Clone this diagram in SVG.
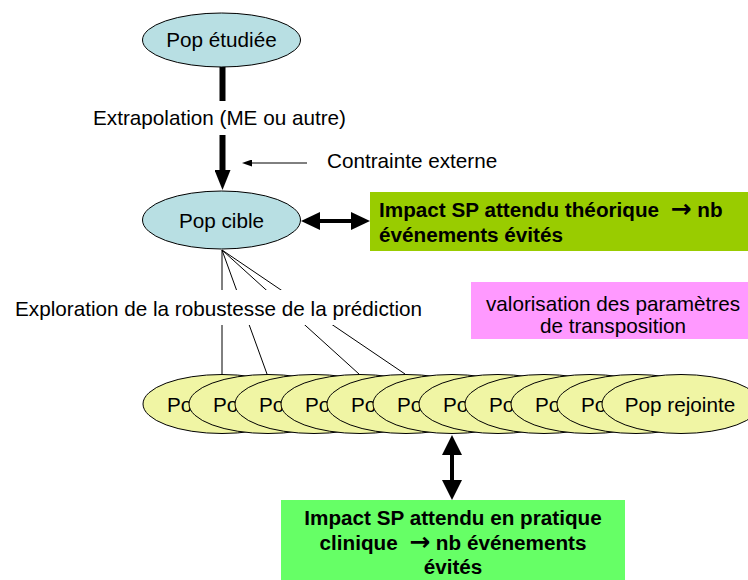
<svg xmlns="http://www.w3.org/2000/svg" width="748" height="580" viewBox="0 0 748 580">
<defs>
<marker id="headBig" viewBox="0 0 20 16" refX="0" refY="8" markerWidth="20" markerHeight="16" markerUnits="userSpaceOnUse" orient="auto-start-reverse"><path d="M0,0 L20,8 L0,16 z" fill="#000"/></marker>
<marker id="headDbl" viewBox="0 0 19 18" refX="0" refY="9" markerWidth="19" markerHeight="18" markerUnits="userSpaceOnUse" orient="auto-start-reverse"><path d="M0,0 L19,9 L0,18 z" fill="#000"/></marker>
<marker id="headDblV" viewBox="0 0 20 20" refX="0" refY="10" markerWidth="20" markerHeight="20" markerUnits="userSpaceOnUse" orient="auto-start-reverse"><path d="M0,0 L20,10 L0,20 z" fill="#000"/></marker>
<marker id="headSmall" viewBox="0 0 10 7" refX="0" refY="3.5" markerWidth="10" markerHeight="7" markerUnits="userSpaceOnUse" orient="auto"><path d="M0,0 L10,3.5 L0,7 z" fill="#000"/></marker>
</defs>
<style>
text{font-family:"Liberation Sans",Arial,sans-serif;font-size:20.7px;fill:#000}
.b{font-weight:bold}
.mid{text-anchor:middle}
.arr{font-family:"DejaVu Sans",sans-serif;font-weight:bold;font-size:25px}
.blue{fill:#B8DFE3;stroke:#000;stroke-width:1}
.yel{fill:#F0F5A4;stroke:#000;stroke-width:1}
.fan{stroke:#000;stroke-width:1;fill:none}
</style>
<rect width="748" height="580" fill="#fff"/>

<g id="connectors">
<line x1="222.5" y1="66" x2="222.5" y2="101" stroke="#000" stroke-width="6"/>
<line x1="222.5" y1="135" x2="222.5" y2="170" stroke="#000" stroke-width="6" marker-end="url(#headBig)"/>
<line x1="307" y1="163" x2="252" y2="163" stroke="#000" stroke-width="1" marker-end="url(#headSmall)"/>
<line x1="320" y1="221" x2="351" y2="221" stroke="#000" stroke-width="4" marker-start="url(#headDbl)" marker-end="url(#headDbl)"/>
<line x1="452" y1="455" x2="452" y2="480" stroke="#000" stroke-width="4" marker-start="url(#headDblV)" marker-end="url(#headDblV)"/>
<path class="fan" d="M222,250 L222,374 M222,250 L267,374 M222,250 L359,374 M222,250 L405,374"/>
</g>

<g id="label-extrapolation">
<text x="93" y="125">Extrapolation (ME ou autre)</text>
</g>
<g id="label-contrainte">
<text x="327" y="168">Contrainte externe</text>
</g>
<g id="label-exploration">
<rect x="8" y="290" width="420" height="35" fill="#fff"/>
<text x="15" y="316">Exploration de la robustesse de la prédiction</text>
</g>

<g id="pop-etudiee">
<ellipse class="blue" cx="221.5" cy="40" rx="79" ry="27"/>
<text class="mid" x="221.5" y="47">Pop étudiée</text>
</g>

<g id="pop-cible">
<ellipse class="blue" cx="221.5" cy="220" rx="79" ry="29"/>
<text class="mid" x="221.5" y="228">Pop cible</text>
</g>

<g id="impact-theorique">
<rect x="370" y="192" width="380" height="59" fill="#99CC00"/>
<text class="b" x="379" y="217" xml:space="preserve">Impact SP attendu théorique  <tspan class="arr">→</tspan> nb</text>
<text class="b" x="379" y="242">événements évités</text>
</g>

<g id="valorisation">
<rect x="471" y="282" width="280" height="57" fill="#FF99FF"/>
<text class="mid" x="613" y="311">valorisation des paramètres</text>
<text class="mid" x="613" y="333">de transposition</text>
</g>

<g id="pop-rejointes">
<g id="pop-1"><ellipse class="yel" cx="222" cy="404" rx="79" ry="29.5"/><text x="167" y="412">Po</text></g>
<g id="pop-2"><ellipse class="yel" cx="268" cy="404" rx="79" ry="29.5"/><text x="213" y="412">Po</text></g>
<g id="pop-3"><ellipse class="yel" cx="314" cy="404" rx="79" ry="29.5"/><text x="259" y="412">Po</text></g>
<g id="pop-4"><ellipse class="yel" cx="360" cy="404" rx="79" ry="29.5"/><text x="305" y="412">Po</text></g>
<g id="pop-5"><ellipse class="yel" cx="406" cy="404" rx="79" ry="29.5"/><text x="351" y="412">Po</text></g>
<g id="pop-6"><ellipse class="yel" cx="452" cy="404" rx="79" ry="29.5"/><text x="397" y="412">Po</text></g>
<g id="pop-7"><ellipse class="yel" cx="498" cy="404" rx="79" ry="29.5"/><text x="443" y="412">Po</text></g>
<g id="pop-8"><ellipse class="yel" cx="544" cy="404" rx="79" ry="29.5"/><text x="489" y="412">Po</text></g>
<g id="pop-9"><ellipse class="yel" cx="590" cy="404" rx="79" ry="29.5"/><text x="535" y="412">Po</text></g>
<g id="pop-10"><ellipse class="yel" cx="636" cy="404" rx="79" ry="29.5"/><text x="581" y="412">Po</text></g>
<g id="pop-rejointe"><ellipse class="yel" cx="681" cy="404" rx="79" ry="29.5"/><text class="mid" x="680" y="412">Pop rejointe</text></g>
</g>

<g id="impact-pratique">
<rect x="281" y="500" width="344" height="85" fill="#66FF66"/>
<text class="b mid" x="453" y="525">Impact SP attendu en pratique</text>
<text class="b mid" x="453" y="550" xml:space="preserve">clinique  <tspan class="arr">→</tspan> nb événements</text>
<text class="b mid" x="453" y="574">évités</text>
</g>
</svg>
